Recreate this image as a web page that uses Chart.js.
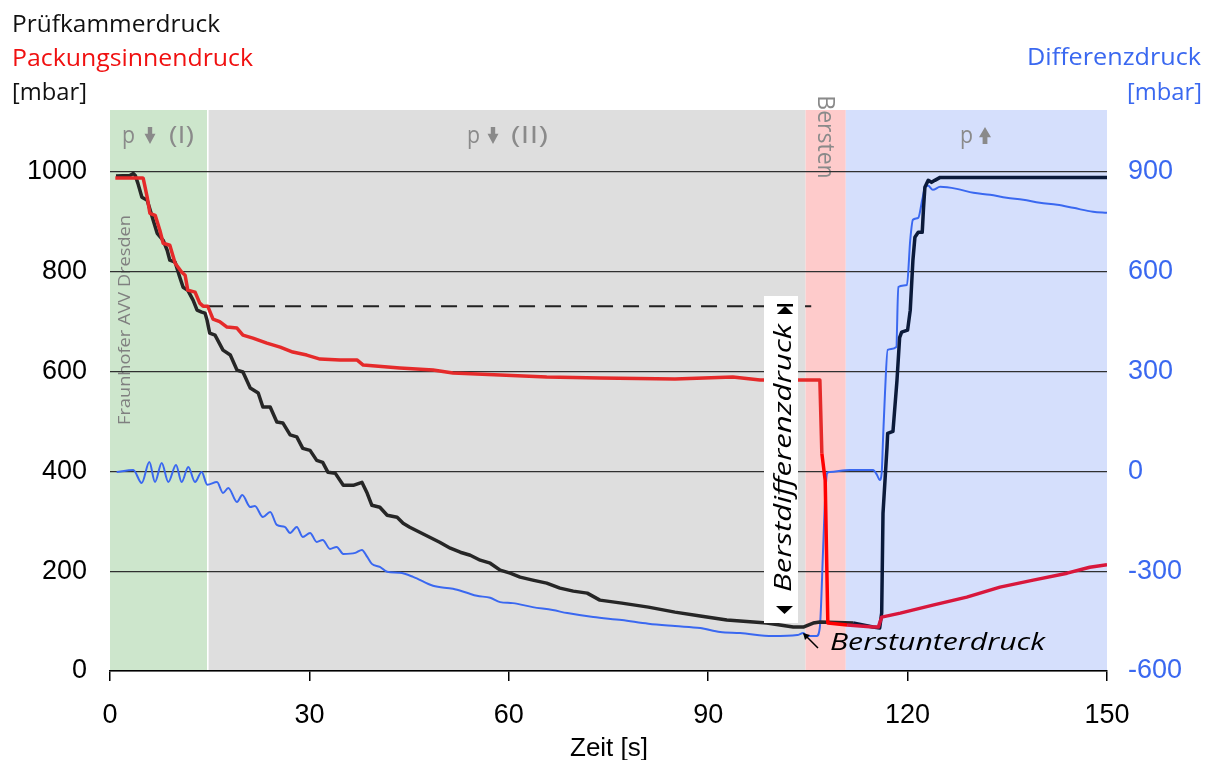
<!DOCTYPE html>
<html><head><meta charset="utf-8">
<script src="https://cdn.jsdelivr.net/npm/chart.js@4/dist/chart.umd.min.js"></script>
<style>html,body{margin:0;padding:0;background:#fff;}</style>
</head><body>
<canvas id="c" width="1208" height="760"></canvas>
<script>
// ---------- DATA ----------
// Prüfkammerdruck [mbar] : [time s, value]
const kammerData = [
 [0.9,992],[3.0,993],[3.5,997],[3.8,993],[4.2,977],[4.8,949],[5.6,943],[6.5,903],[7.1,877],[8.0,863],
 [8.6,843],[9.0,823],[9.8,819],[10.5,789],[11.0,769],[11.7,763],[12.5,743],[13.1,723],[13.8,719],[14.3,717],
 [14.6,703],[15.0,677],[15.8,673],[17.0,643],[18.1,633],[19.1,603],[20.0,599],[21.1,567],[22.3,557],[23.0,529],
 [24.1,529],[25.1,499],[26.0,497],[27.1,473],[28.1,469],[29.0,446],[30.1,442],[31.1,422],[32.0,418],[32.8,398],
 [33.9,396],[35.1,372],[36.6,372],[37.9,378],[38.7,356],[39.4,332],[40.6,328],[41.7,312],[43.2,308],[44.1,296],
 [45.1,288],[46.6,278],[48.1,268],[49.6,258],[51.2,246],[52.7,238],[54.2,232],[55.7,222],[57.2,216],[58.7,202],
 [60.2,196],[61.7,188],[63.6,182],[65.7,176],[67.7,166],[69.7,160],[71.8,156],[73.7,142],[77.0,136],[81.0,128],
 [85.0,118],[88.8,110],[92.8,102],[98.8,96],[102.8,88],[104.3,88],[105.8,96],[106.8,98],[111.8,96],[114.8,88],
 [115.8,86],[116.1,116],[116.3,316],[116.9,448],[117.0,476],[117.8,480],[118.4,582],[118.8,668],[119.1,679],[120.0,683],
 [120.4,723],[120.8,823],[121.1,869],[121.6,879],[122.2,879],[122.4,929],[122.6,969],[123.1,983],[123.6,979],[124.1,983],
 [124.9,989],[150,989]
];
// Packungsinnendruck [mbar]
const packungData = [
 [0.8,988],[4.9,988],[5.0,987],[5.6,949],[6.0,917],[6.8,913],[7.5,883],[8.0,857],[9.0,853],[9.8,817],
 [10.8,799],[11.3,793],[11.7,763],[12.8,759],[13.5,737],[14.0,731],[14.7,731],[15.5,705],[16.5,700],[17.6,689],
 [19.1,687],[20.0,673],[21.5,667],[23.6,657],[25.6,649],[27.5,639],[29.6,633],[31.6,625],[34.6,623],[37.2,623],
 [38.1,613],[43.6,607],[48.6,603],[51.6,597],[58.7,593],[65.7,589],[73.7,587],[85.0,585],[93.7,589],[97.8,583],
 [106.8,583],[107.1,436],[107.6,382],[108.0,96],[110.9,92],[114.8,88],[115.6,88],[116.1,108],[118.9,116],[123.8,132],
 [128.9,148],[133.9,168],[138.9,182],[144.0,196],[147.4,208],[150,213]
];
// Differenzdruck [mbar] (right axis)
const differenzData = [
 [1.0,-2],[3.5,4],[4.77,-35],[5.92,28],[6.77,-32],[7.78,25],[8.77,-32],[9.93,19],[10.78,-32],[11.78,13],
 [12.79,-32],[13.79,-2],[14.64,-40],[16.1,-32],[17.0,-65],[17.8,-50],[19.1,-92],[19.9,-71],[21.1,-107],[21.8,-104],
 [23.0,-137],[24.1,-122],[25.1,-161],[26.3,-167],[27.1,-185],[28.1,-167],[29.0,-197],[30.1,-185],[31.1,-212],[32.0,-206],
 [33.1,-233],[34.1,-227],[35.1,-248],[36.9,-245],[37.9,-236],[38.7,-257],[39.4,-278],[40.6,-287],[41.7,-302],[43.6,-305],
 [45.6,-317],[48.6,-344],[51.6,-353],[53.7,-365],[55.2,-374],[57.2,-380],[58.7,-393],[60.6,-396],[63.6,-408],[66.6,-417],
 [68.8,-426],[72.7,-438],[77.0,-447],[81.0,-458],[85.0,-465],[88.8,-471],[91.8,-483],[94.8,-486],[99.7,-495],[103.4,-492],
 [104.3,-486],[104.9,-495],[106.3,-495],[106.8,-468],[107.3,-227],[107.6,-77],[107.9,-5],[108.3,-2],[111.3,4],[114.8,4],
 [115.4,-11],[115.8,-26],[116.1,-5],[116.3,94],[116.6,236],[117.0,365],[118.3,374],[118.6,554],[119.9,560],[120.4,696],
 [120.8,756],[121.6,762],[122.2,816],[122.6,852],[123.1,858],[123.8,846],[124.9,855],[127.4,849],[129.9,837],[132.4,831],
 [134.9,822],[137.4,816],[139.9,807],[142.5,801],[144.9,792],[147.9,780],[150,777]
];
// Berstdifferenzdruck reference level (dashed)
const dashData = [[14.6,731],[105.5,731]];
// Phases
const phaseStart = [0, 14.8, 104.65, 110.7];
const phaseEnd   = [14.6, 104.65, 110.7, 150];
const leftTicks  = [0, 200, 400, 600, 800, 1000];
const rightTicks = [-600, -300, 0, 300, 600, 900];
const xTicks     = [0, 30, 60, 90, 120, 150];

// ---------- helpers ----------
const toXY = arr => arr.map(p => ({x: p[0], y: p[1]}));
function fitText(ctx, text, x, y, o) {
  ctx.save();
  ctx.font = o.font;
  const w = ctx.measureText(text).width;
  ctx.translate(x, y);
  if (o.rot) ctx.rotate(o.rot);
  if (o.width) ctx.scale(o.width / w, 1);
  ctx.textAlign = o.align || 'left';
  ctx.textBaseline = o.baseline || 'alphabetic';
  ctx.fillStyle = o.color || '#000';
  ctx.fillText(text, 0, 0);
  ctx.restore();
}
function blockArrow(ctx, cx, top, h, w, up, color) {
  ctx.save(); ctx.fillStyle = color; ctx.beginPath();
  const sw = w * 0.4, hh = h * 0.6;
  if (!up) {
    ctx.moveTo(cx - sw/2, top); ctx.lineTo(cx + sw/2, top); ctx.lineTo(cx + sw/2, top + h - hh);
    ctx.lineTo(cx + w/2, top + h - hh); ctx.lineTo(cx, top + h); ctx.lineTo(cx - w/2, top + h - hh);
    ctx.lineTo(cx - sw/2, top + h - hh);
  } else {
    ctx.moveTo(cx, top); ctx.lineTo(cx + w/2, top + hh); ctx.lineTo(cx + sw/2, top + hh);
    ctx.lineTo(cx + sw/2, top + h); ctx.lineTo(cx - sw/2, top + h); ctx.lineTo(cx - sw/2, top + hh);
    ctx.lineTo(cx - w/2, top + hh);
  }
  ctx.closePath(); ctx.fill(); ctx.restore();
}

const GRAY = '#8a8a8a';
const BLUE = '#3a68f0';
const bandColors = ['#cde6cc', '#dedede', '#fecbcb', '#d5dffc'];

const deco = {
  id: 'deco',
  beforeDraw(chart) {
    const {ctx, chartArea: a, scales: {x}} = chart;
    ctx.save();
    ctx.fillStyle = '#fff'; ctx.fillRect(0, 0, chart.width, chart.height);
    for (let i = 0; i < phaseStart.length; i++) {
      const x0 = x.getPixelForValue(phaseStart[i]), x1 = x.getPixelForValue(phaseEnd[i]);
      ctx.fillStyle = bandColors[i];
      ctx.fillRect(x0, a.top, x1 - x0, a.bottom - a.top);
    }
    ctx.fillStyle = '#ffffff';
    const xs = x.getPixelForValue(phaseEnd[0]);
    ctx.fillRect(xs, a.top, x.getPixelForValue(phaseStart[1]) - xs, a.bottom - a.top);
    // phase labels
    const base = a.top + 33;
    const F = '23px "Open Sans"';
    fitText(ctx, 'p', 122, base, {font: F, color: GRAY, width: 13});
    blockArrow(ctx, 150, base - 16, 17, 11, false, GRAY);
    fitText(ctx, '(I)', 169, base, {font: F, color: GRAY, width: 25});
    fitText(ctx, 'p', 467, base, {font: F, color: GRAY, width: 13});
    blockArrow(ctx, 493, base - 16, 17, 11, false, GRAY);
    fitText(ctx, '(II)', 511, base, {font: F, color: GRAY, width: 37});
    fitText(ctx, 'p', 960, base, {font: F, color: GRAY, width: 13});
    blockArrow(ctx, 985, base - 16, 17, 12, true, GRAY);
    fitText(ctx, 'Bersten', 818, 137, {font: F, color: GRAY, rot: Math.PI/2, align: 'center'});
    fitText(ctx, 'Fraunhofer AVV Dresden', 130, 425, {font: '16px "Open Sans"', color: '#808080', width: 210, rot: -Math.PI/2});
    ctx.restore();
  },
  afterDatasetsDraw(chart) {
    const {ctx} = chart;
    ctx.save();
    ctx.fillStyle = '#fff';
    ctx.fillRect(764, 296, 34, 327);
    ctx.fillStyle = '#000';
    ctx.fillRect(777, 304, 16, 2.5);
    ctx.beginPath(); ctx.moveTo(785, 306); ctx.lineTo(793, 314); ctx.lineTo(777, 314); ctx.closePath(); ctx.fill();
    ctx.beginPath(); ctx.moveTo(776, 606); ctx.lineTo(793, 606); ctx.lineTo(784.5, 614); ctx.closePath(); ctx.fill();
    fitText(ctx, 'Berstdifferenzdruck', 791, 458, {font: 'italic 24px "Open Sans"', color: '#000', width: 268, rot: -Math.PI/2, align: 'center'});
    fitText(ctx, 'Berstunterdruck', 830, 650, {font: 'italic 24px "Open Sans"', color: '#000', width: 215});
    ctx.strokeStyle = '#000'; ctx.lineWidth = 1.5;
    ctx.beginPath(); ctx.moveTo(818, 648); ctx.lineTo(804, 634); ctx.stroke();
    ctx.beginPath(); ctx.moveTo(803, 633); ctx.lineTo(810, 635); ctx.lineTo(805, 640); ctx.closePath(); ctx.fill();
    ctx.restore();
  },
  afterDraw(chart) {
    const {ctx} = chart;
    const F = '23px "Open Sans"';
    fitText(ctx, 'Prüfkammerdruck', 12, 32, {font: F, color: '#111', width: 208});
    fitText(ctx, 'Packungsinnendruck', 12, 66, {font: F, color: '#f01010', width: 241});
    fitText(ctx, '[mbar]', 12, 100, {font: F, color: '#111', width: 75});
    fitText(ctx, 'Differenzdruck', 1201, 65, {font: F, color: BLUE, width: 174, align: 'right'});
    fitText(ctx, '[mbar]', 1202, 100, {font: F, color: BLUE, width: 75, align: 'right'});
    fitText(ctx, 'Zeit [s]', 609, 756, {font: '26px "Liberation Sans"', color: '#000', align: 'center'});
  }
};

const TICKFONT = {family: '"Liberation Sans", Arial, sans-serif', size: 27};
const plain = v => String(v);

new Chart(document.getElementById('c'), {
  type: 'line',
  data: {
    datasets: [
      {label: 'Packungsinnendruck', data: toXY(packungData), yAxisID: 'y', order: 0,
       borderColor: '#e52a2a', borderWidth: 3.5, pointRadius: 0, tension: 0, borderJoinStyle: 'round',
       segment: {borderColor: c => c.p0.parsed.x >= 106.9 && c.p0.parsed.x < 110.5 ? '#ff0000' : (c.p0.parsed.x >= 110.5 ? '#d8173c' : '#e52a2a')}},
      {label: 'Prüfkammerdruck', data: toXY(kammerData), yAxisID: 'y', order: 1,
       borderColor: '#262626', borderWidth: 3.5, pointRadius: 0, tension: 0, borderJoinStyle: 'round',
       segment: {borderColor: c => c.p0.parsed.x >= 110 ? '#0b1a3a' : '#262626'}},
      {label: 'dash', data: toXY(dashData), yAxisID: 'y', order: 2,
       borderColor: '#222', borderWidth: 2, borderDash: [16, 10], pointRadius: 0},
      {label: 'Differenzdruck', data: toXY(differenzData), yAxisID: 'y2', order: 3,
       borderColor: BLUE, borderWidth: 2, pointRadius: 0, cubicInterpolationMode: 'monotone', borderJoinStyle: 'round'}
    ]
  },
  options: {
    responsive: false, animation: false,
    layout: {padding: {top: 110, left: 0, right: 0, bottom: 0}},
    plugins: {legend: {display: false}, tooltip: {enabled: false}, title: {display: false}},
    scales: {
      x: {
        type: 'linear', min: 0, max: 150,
        afterBuildTicks: s => { s.ticks = xTicks.map(v => ({value: v})); },
        afterFit: s => { s.height = 89; },
        grid: {drawOnChartArea: false, drawTicks: true, tickLength: 10, color: '#000', lineWidth: 1.5},
        border: {display: true, color: '#000', width: 1.5},
        ticks: {color: '#000', font: TICKFONT, padding: 18, maxRotation: 0, callback: plain}
      },
      y: {
        position: 'left', min: 0, max: 1124,
        afterBuildTicks: s => { s.ticks = leftTicks.map(v => ({value: v})); },
        afterFit: s => { s.width = 110; },
        grid: {drawTicks: false, color: '#303030', lineWidth: 1.3},
        border: {display: false},
        ticks: {color: '#000', font: TICKFONT, padding: 23, callback: plain}
      },
      y2: {
        position: 'right', min: -600, max: 1086,
        afterBuildTicks: s => { s.ticks = rightTicks.map(v => ({value: v})); },
        afterFit: s => { s.width = 101; },
        grid: {display: false, drawTicks: false},
        border: {display: false},
        ticks: {color: BLUE, font: TICKFONT, padding: 21, callback: plain}
      }
    }
  },
  plugins: [deco]
});
</script>
</body></html>
